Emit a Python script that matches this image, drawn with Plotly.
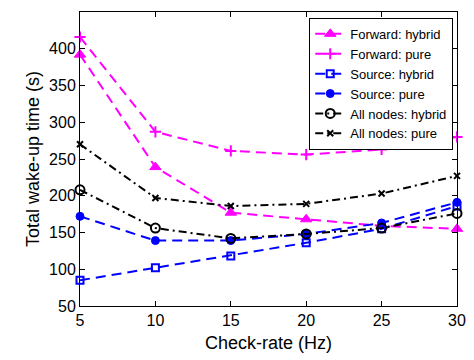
import plotly.graph_objects as go

check_rate = [5, 10, 15, 20, 25, 30]
forward_hybrid = [392, 239, 177, 168, 159, 155]
forward_pure = [416, 287, 261, 256, 263, 280]
source_hybrid = [85, 102, 118, 136, 155, 186]
source_pure = [172, 139, 139, 148, 163, 191]
all_hybrid = [208, 156, 142, 148, 156, 176]
all_pure = [270, 197, 186, 189, 203, 227]

DASH = "10px,6px"
DASHDOT = "8px,4px,2px,4px"

series = [
    ("Forward: hybrid", forward_hybrid, "#ff00ff", DASH, "triangle-up", 10, 1),
    ("Forward: pure", forward_pure, "#ff00ff", DASH, "cross-thin-open", 8, 2),
    ("Source: hybrid", source_hybrid, "#0000ff", DASH, "square-open", 7, 2),
    ("Source: pure", source_pure, "#0000ff", DASH, "circle", 8, 1),
    ("All nodes: hybrid", all_hybrid, "#000000", DASHDOT, "circle-open", 9, 2),
    ("All nodes: pure", all_pure, "#000000", DASHDOT, "x-thin-open", 6, 2),
]

fig = go.Figure()
for name, vals, color, dash, sym, size, lw in series:
    fig.add_trace(go.Scatter(
        x=check_rate, y=vals, name=name, mode="lines+markers", cliponaxis=False,
        line=dict(color=color, dash=dash, width=2),
        marker=dict(symbol=sym, size=size, color=color, line=dict(color=color, width=lw)),
    ))

axis_common = dict(
    showline=True, linecolor="black", linewidth=1, mirror="ticks",
    ticks="inside", ticklen=5, tickcolor="black", showgrid=False, zeroline=False,
    tickfont=dict(family="Liberation Sans, Arial, sans-serif", size=16, color="black"),
)
fig.update_layout(
    width=466, height=352,
    margin=dict(l=72, r=17, t=4, b=54),
    paper_bgcolor="white", plot_bgcolor="white",
    font=dict(family="Liberation Sans, Arial, sans-serif", color="black"),
    xaxis=dict(range=[5, 30], tickvals=[5, 10, 15, 20, 25, 30],
               title=dict(text="Check-rate (Hz)", font=dict(size=18), standoff=8), **axis_common),
    yaxis=dict(range=[50, 450], tickvals=[50, 100, 150, 200, 250, 300, 350, 400, 450],
               title=dict(text="Total wake-up time (s)", font=dict(size=18), standoff=4), **axis_common),
    legend=dict(x=0.99, y=0.98, xanchor="right", yanchor="top",
                bgcolor="white", bordercolor="black", borderwidth=1,
                font=dict(size=13), tracegroupgap=0, itemwidth=30),
)

fig.write_html("out.html")
